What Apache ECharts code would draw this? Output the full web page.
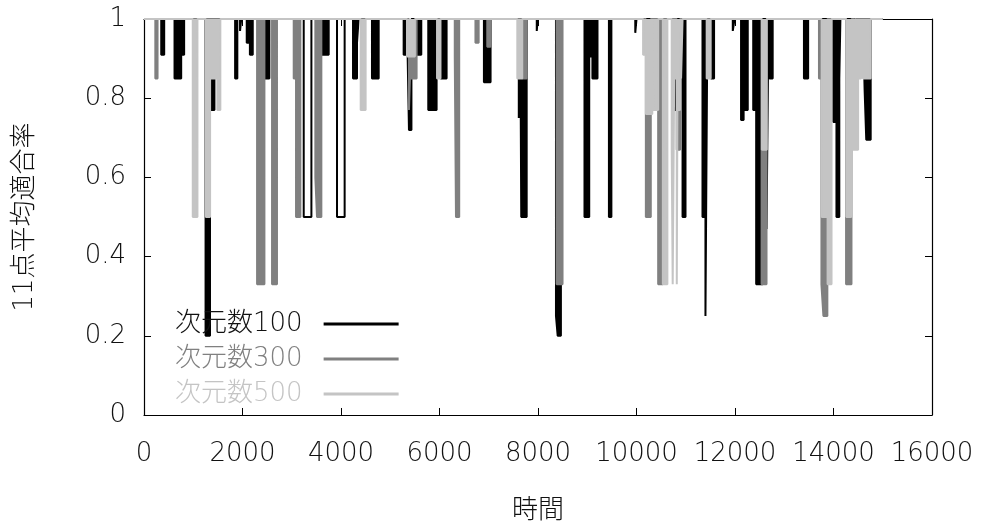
<!DOCTYPE html>
<html>
<head>
<meta charset="utf-8">
<script src="https://cdn.jsdelivr.net/npm/echarts@6/dist/echarts.min.js"></script>
<style>
  html, body { margin: 0; padding: 0; background: #fff; }
  #chart { width: 983px; height: 529px; }
</style>
</head>
<body>
<div id="chart"></div>
<script>
// Series names (dimension count) and time range of the run
const seriesNames = ['次元数100', '次元数300', '次元数500'];
const timeEnd = 15000;

// Tick labels
const xTickLabels = ['0', '2000', '4000', '6000', '8000', '10000', '12000', '14000', '16000'];
const yTickLabels = ['0', '0.2', '0.4', '0.6', '0.8', '1'];

// 11-point average precision drops: [start time, end time, value]; 1 elsewhere
const dips100 = [
  [350, 410, 0.91], [620, 755, 0.85], [755, 815, 0.91],
  [1250, 1340, 0.2], [1340, 1430, 0.77], [1850, 1895, 0.85], [1950, 1975, 0.97],
  [2086, 2150, 0.94], [2150, 2208, 0.91], [2460, 2545, 0.85],
  [3600, 3750, 0.91],
  [4244, 4325, 0.85], [4325, 4358, 0.94],
  [4629, 4765, 0.85], [5272, 5340, 0.91], [5380, 5430, 0.72], [5535, 5630, 0.91],
  [5772, 5941, 0.77], [6022, 6144, 0.85], [6902, 7037, 0.84],
  [7610, 7640, 0.75], [7660, 7770, 0.5], [7975, 7995, 0.97],
  [8365, 8400, 0.25], [8400, 8465, 0.2],
  [8944, 9040, 0.5], [9040, 9105, 0.905], [9105, 9208, 0.85],
  [9440, 9490, 0.5], [9975, 10000, 0.965],
  [10770, 10818, 0.77], [10935, 10995, 0.5],
  [11340, 11400, 0.5], [11400, 11440, 0.25], [11510, 11575, 0.85], [11955, 11990, 0.97],
  [12123, 12175, 0.745], [12175, 12259, 0.77], [12370, 12430, 0.77], [12430, 12560, 0.33],
  [12640, 12680, 0.47], [12700, 12765, 0.85],
  [13400, 13485, 0.85], [13890, 13930, 0.5],
  [13995, 14060, 0.74], [14060, 14118, 0.5], [14118, 14140, 0.85],
  [14420, 14460, 0.91], [14565, 14598, 0.94], [14632, 14665, 0.82], [14665, 14755, 0.695]
];
// Single flat drops of the 100-dimension run (held at one value, no jitter)
const flatDips100 = [[3243, 3399, 0.5], [3919, 4074, 0.5]];

const dips300 = [
  [230, 275, 0.85], [2296, 2445, 0.33], [2600, 2700, 0.33],
  [3040, 3087, 0.85], [3087, 3175, 0.5], [3479, 3513, 0.6], [3513, 3601, 0.5],
  [5380, 5400, 0.77], [5400, 5535, 0.85], [6310, 6335, 0.905], [6335, 6400, 0.5],
  [6730, 6795, 0.94], [6970, 7036, 0.93], [7680, 7770, 0.85],
  [8378, 8498, 0.33], [10190, 10290, 0.5], [10440, 10535, 0.33], [10817, 10884, 0.67],
  [12540, 12640, 0.33],
  [13705, 13755, 0.85], [13755, 13795, 0.33], [13795, 13875, 0.25],
  [14255, 14365, 0.33], [14420, 14460, 0.84]
];
const dips500 = [
  [990, 1085, 0.5], [1255, 1342, 0.5], [1342, 1490, 0.85], [1490, 1550, 0.77],
  [4400, 4500, 0.77], [5340, 5500, 0.905], [5950, 6020, 0.85], [7580, 7680, 0.85],
  [10134, 10190, 0.91], [10190, 10320, 0.76], [10340, 10440, 0.77], [10535, 10627, 0.33],
  [10715, 10735, 0.67], [10735, 10765, 0.33], [10765, 10818, 0.85], [10818, 10830, 0.33],
  [10830, 10884, 0.77], [10905, 10935, 0.85], [11425, 11506, 0.85],
  [12545, 12645, 0.67],
  [13760, 13880, 0.5], [13880, 13960, 0.33],
  [14260, 14361, 0.5], [14361, 14500, 0.67], [14500, 14560, 0.85], [14600, 14755, 0.85]
];

// Turn the drop list into a stepped polyline that sits at 1 between drops
function toPoints(dips) {
  const pts = [[0, 1]];
  let prevEnd = null;
  for (const [a, b, v] of dips) {
    if (prevEnd !== a) {
      if (prevEnd !== null) pts.push([prevEnd, 1]);
      pts.push([a, 1]);
    }
    pts.push([a, v], [b, v]);
    prevEnd = b;
  }
  pts.push([prevEnd, 1], [timeEnd, 1]);
  return pts;
}

// Outline of isolated flat drops only (gaps between them)
function toOutline(dips) {
  const pts = [];
  for (const [a, b, v] of dips) {
    pts.push([a, 1], [a, v], [b, v], [b, 1], ['-', '-']);
  }
  return pts;
}

const colors = ['#000000', '#808080', '#c4c4c4'];
const allDips = [dips100, dips300, dips500];
const font = "'DejaVu Sans', 'Noto Sans CJK JP', sans-serif";
const textColor = '#111';

const chart = echarts.init(document.getElementById('chart'), null, { renderer: 'canvas' });

const series = seriesNames.map((name, i) => ({
  name,
  type: 'line',
  data: toPoints(allDips[i]),
  showSymbol: false,
  symbol: 'none',
  clip: false,
  animation: false,
  color: colors[i],
  lineStyle: { color: colors[i], width: 2 },
  areaStyle: { color: colors[i], opacity: 1, origin: 'end' },
  z: 2 + i
}));

series.push({
  name: seriesNames[0],
  type: 'line',
  data: toOutline(flatDips100),
  connectNulls: false,
  showSymbol: false,
  symbol: 'none',
  clip: false,
  animation: false,
  color: colors[0],
  lineStyle: { color: colors[0], width: 2 },
  z: 2
});

const axisLineStyle = { color: '#000', width: 1.2 };

chart.setOption({
  animation: false,
  backgroundColor: '#fff',
  grid: { left: 144, right: 51, top: 19, bottom: 112 },
  legend: {
    orient: 'vertical',
    left: 170,
    top: 306,
    align: 'right',
    icon: 'rect',
    itemWidth: 75,
    itemHeight: 3,
    itemGap: 9,
    selectedMode: false,
    textStyle: { fontSize: 26, lineHeight: 26, fontFamily: font, fontWeight: 200, padding: [0, 16, 0, 0] },
    data: seriesNames.map((n, i) => ({ name: n, textStyle: { color: i === 0 ? textColor : colors[i] } }))
  },
  xAxis: [
    {
      type: 'value', min: 0, max: 16000, interval: 2000, position: 'bottom',
      axisLine: { show: true, onZero: false, lineStyle: axisLineStyle },
      axisTick: { show: true, inside: true, length: 7, lineStyle: { color: '#000' } },
      axisLabel: {
        fontSize: 26, fontFamily: font, fontWeight: 200, color: textColor, margin: 26,
        formatter: v => xTickLabels[Math.round(v / 2000)]
      },
      splitLine: { show: false },
      name: '時間', nameLocation: 'middle', nameGap: 83,
      nameTextStyle: { fontSize: 26, fontFamily: font, fontWeight: 200, color: textColor }
    },
    {
      type: 'value', min: 0, max: 16000, interval: 2000, position: 'top',
      axisLine: { show: true, onZero: false, lineStyle: axisLineStyle },
      axisTick: { show: true, inside: true, length: 7, lineStyle: { color: '#000' } },
      axisLabel: { show: false },
      splitLine: { show: false }
    }
  ],
  yAxis: [
    {
      type: 'value', min: 0, max: 1, interval: 0.2, position: 'left',
      axisLine: { show: true, onZero: false, lineStyle: axisLineStyle },
      axisTick: { show: true, inside: true, length: 7, lineStyle: { color: '#000' } },
      axisLabel: {
        fontSize: 26, fontFamily: font, fontWeight: 200, color: textColor, margin: 18,
        formatter: v => yTickLabels[Math.round(v / 0.2)]
      },
      splitLine: { show: false },
      name: '11点平均適合率', nameLocation: 'middle', nameRotate: 90, nameGap: 106,
      nameTextStyle: { fontSize: 26, fontFamily: font, fontWeight: 200, color: textColor }
    },
    {
      type: 'value', min: 0, max: 1, interval: 0.2, position: 'right',
      axisLine: { show: true, onZero: false, lineStyle: axisLineStyle },
      axisTick: { show: true, inside: true, length: 7, lineStyle: { color: '#000' } },
      axisLabel: { show: false },
      splitLine: { show: false }
    }
  ],
  series
});
</script>
</body>
</html>
